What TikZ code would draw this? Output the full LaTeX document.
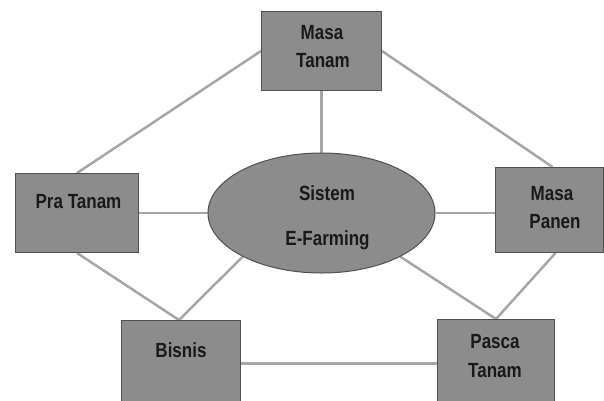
\documentclass[tikz,border=0pt]{standalone}
\usepackage{fontspec}
\setmainfont{Liberation Sans}[FakeStretch=0.83]
\usetikzlibrary{shapes.geometric,calc,backgrounds}
\definecolor{boxfill}{HTML}{8C8C8C}
\definecolor{boxline}{HTML}{505050}
\definecolor{linkgray}{HTML}{A6A6A6}
\begin{document}
\begin{tikzpicture}[x=1pt,y=-1pt,
  box/.style={draw=boxline, fill=boxfill, line width=1pt, rectangle, inner sep=0pt, anchor=north west},
  lbl/.style={font=\fontsize{20.5}{24}\selectfont\bfseries, anchor=base, inner sep=0pt, text=black!90},
  link/.style={draw=linkgray, line width=2.5pt}]
\useasboundingbox (0,0) rectangle (604,400);
% boxes
\node[box, minimum width=120pt, minimum height=79pt] (mt) at (261,11) {};
\node[box, minimum width=123pt, minimum height=79pt] (pt) at (15,173) {};
\node[box, minimum width=108pt, minimum height=85pt] (mp) at (495,167) {};
\node[box, minimum width=119pt, minimum height=84pt] (bi) at (121,320) {};
\node[box, minimum width=117pt, minimum height=85pt] (pc) at (437,319) {};
\node[ellipse, draw=boxline, fill=boxfill, line width=1pt, minimum width=227pt, minimum height=120pt, inner sep=0pt] (el) at (321.5,213) {};
% labels
\node[lbl] (mt1) at (322,39) {Masa};
\node[lbl] (mt2) at (323,67) {Tanam};
\node[lbl] (pt1) at (78.5,208) {Pra Tanam};
\node[lbl] (el1) at (327,200) {Sistem};
\node[lbl] (el2) at (327.5,245) {E-Farming};
\node[lbl] (mp1) at (552,200) {Masa};
\node[lbl] (mp2) at (555,228) {Panen};
\node[lbl] (bi1) at (181,357) {Bisnis};
\node[lbl] (pc1) at (495,348) {Pasca};
\node[lbl] (pc2) at (495,377) {Tanam};
% connectors
\begin{scope}[on background layer]
\draw[link] (mt.west) -- (pt.north);
\draw[link] (mt.east) -- ([xshift=3pt]mp.north);
\draw[link] (mt.south) -- (el.north);
\draw[link] (el.west -| pt.east) -- (el.west);
\draw[link] (el.east) -- (el.east -| mp.west);
\draw[link] (pt.south) -- ([xshift=-2pt]bi.north);
\draw[link] (el.209) -- ([xshift=-2pt]bi.north);
\draw[link] (el.331.6) -- (pc.north);
\draw[link] ([xshift=6pt]mp.south) -- (pc.north);
\draw[link] ([yshift=-1pt]bi.east) -- ([yshift=-1pt]bi.east -| pc.west);
\end{scope}
\end{tikzpicture}
\end{document}
